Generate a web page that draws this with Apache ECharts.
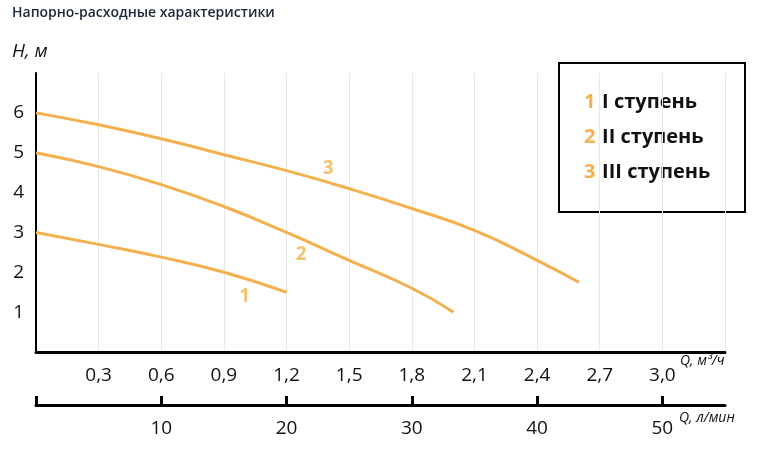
<!DOCTYPE html><html><head><meta charset="utf-8"><script src="https://cdn.jsdelivr.net/npm/echarts@6/dist/echarts.min.js"></script></head><body style="margin:0"><div id="c" style="width:761px;height:459px"></div><script>
const curve1=[[0,3],[0.3,2.7],[0.6,2.38],[0.9,2.0],[1.2,1.5]];
const curve2=[[0,5],[0.3,4.65],[0.6,4.2],[0.9,3.65],[1.2,3.0],[1.5,2.3],[1.8,1.6],[2.0,1.0]];
const curve3=[[0,6],[0.3,5.7],[0.6,5.35],[0.9,4.95],[1.2,4.55],[1.5,4.1],[1.8,3.6],[2.1,3.05],[2.4,2.3],[2.6,1.75]];
const curveLabels=[[1.0,1.4,'1'],[1.27,2.45,'2'],[1.4,4.6,'3']];
const legendItems=['I ступень','II ступень','III ступень'];
const orange='#f5b04e';
const ch=echarts.init(document.getElementById('c'));
const ff='"Open Sans", "Noto Sans", sans-serif';
const lineS=(d)=>({type:'line',data:d,smooth:true,showSymbol:false,lineStyle:{color:orange,width:3},xAxisIndex:0,yAxisIndex:0});
ch.setOption({
animation:false,
textStyle:{fontFamily:ff},
grid:[{left:36,right:36,top:73,height:279},{left:36,right:36,top:405,height:0}],
xAxis:[{gridIndex:0,type:'value',min:0,max:3.3,interval:0.3,
 axisLine:{lineStyle:{color:'#000',width:3}},axisTick:{show:false},
 splitLine:{show:true,lineStyle:{color:'#e8e8e8'}},
 axisLabel:{color:'#111',fontSize:19,margin:14,formatter:v=>(v===0||v>3.05)?'':v.toFixed(1).replace('.',','),fontFamily:ff}},
 {gridIndex:1,type:'value',min:0,max:55,interval:10,
 axisLine:{lineStyle:{color:'#000',width:3}},axisTick:{show:true,inside:true,length:9,lineStyle:{color:'#000',width:3}},
 splitLine:{show:false},
 axisLabel:{color:'#111',fontSize:19,margin:14,showMaxLabel:false,formatter:v=>(v===0||v>50)?'':v,fontFamily:ff}}],
yAxis:[{gridIndex:0,type:'value',min:0,max:7,interval:1,
 axisLine:{show:true,lineStyle:{color:'#000',width:2}},axisTick:{show:false},splitLine:{show:false},
 axisLabel:{color:'#111',fontSize:19,margin:12,formatter:v=>(v===0||v===7)?'':v,fontFamily:ff}},
 {gridIndex:1,type:'value',show:false}],
series:[lineS(curve1),lineS(curve2),lineS(curve3),
 {type:'scatter',data:curveLabels,symbolSize:0,xAxisIndex:0,yAxisIndex:0,
  label:{show:true,position:'inside',formatter:p=>p.data[2],color:orange,fontSize:19,fontWeight:'bold',fontFamily:ff}}],
graphic:[
 {type:'text',left:12,top:6,style:{text:'Напорно-расходные характеристики',font:'600 14px '+ff,fill:'#1b2838'}},
 {type:'text',left:12,top:42,style:{text:'H, м',font:'italic 19px '+ff,fill:'#111'}},
 {type:'text',left:680,top:354,style:{text:'Q, м³/ч',font:'italic 14px '+ff,fill:'#111'}},
 {type:'text',left:679,top:411,style:{text:'Q, л/мин',font:'italic 14px '+ff,fill:'#111'}},
 {type:'rect',shape:{x:559,y:63,width:186,height:149},style:{fill:'#fff',stroke:'#000',lineWidth:2}},
 ...legendItems.map((t,i)=>({type:'text',left:584,top:92+i*35,style:{
  text:'{n|'+(i+1)+'}  {t|'+t+'}',rich:{n:{fill:orange,font:'bold 20px '+ff},t:{fill:'#111',font:'bold 20px '+ff}}}}))
]});
</script></body></html>
